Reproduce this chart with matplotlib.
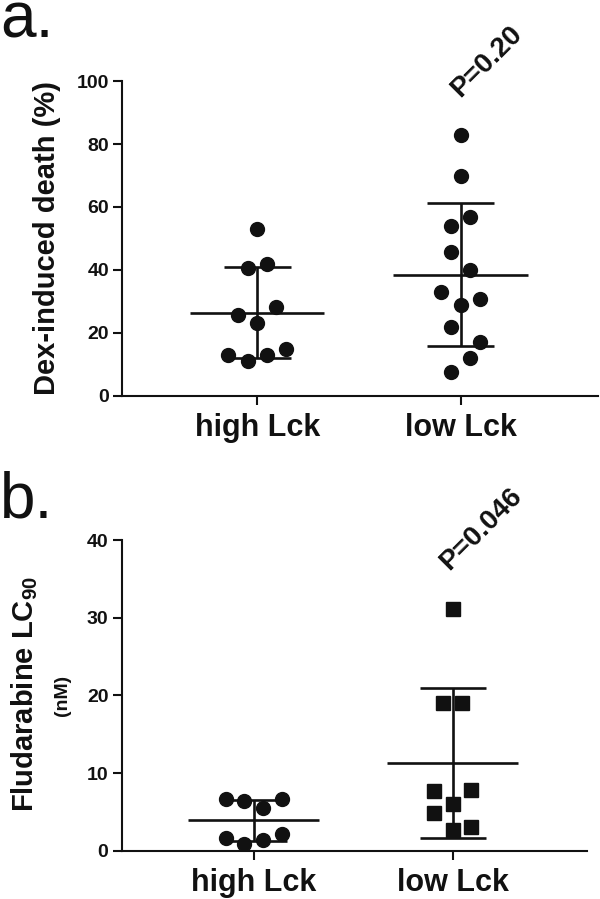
import numpy as np
import matplotlib
matplotlib.use("Agg")
import matplotlib.pyplot as plt

plt.rcParams['font.family'] = ['Liberation Sans', 'DejaVu Sans']
plt.rcParams['mathtext.fontset'] = 'custom'
plt.rcParams['mathtext.rm'] = 'Liberation Sans'
plt.rcParams['mathtext.bf'] = 'Liberation Sans:bold'

groups = ['high Lck', 'low Lck']

# panel a: Dex-induced death (%)
dex_high = [53, 40.5, 42, 25.6, 28.1, 23, 13, 10.9, 13, 14.8]
dex_low = [82.9, 69.7, 56.8, 53.9, 45.7, 40.1, 33, 30.9, 28.8, 21.9, 17, 11.9, 7.7]
# horizontal scatter slot of each point (as in the original dot plot)
dex_high_slot = [0, -1, 1, -2, 2, 0, -3, -1, 1, 3]
dex_low_slot = [0, 0, 1, -1, -1, 1, -2, 2, 0, -1, 2, 1, -1]

# panel b: Fludarabine LC90 (nM)
flu_high = [6.6, 6.4, 5.5, 6.6, 1.6, 0.9, 1.4, 2.2]
flu_low = [31.1, 19.0, 19.0, 7.7, 7.8, 6.0, 4.9, 2.7, 3.1]
flu_high_slot = [-3, -1, 1, 3, -3, -1, 1, 3]
flu_low_slot = [0, -1, 1, -2, 2, 0, -2, 0, 2]

STEP = 0.047
INK = '#111111'

fig = plt.figure(figsize=(6.0, 8.99), dpi=100)
ax_a = fig.add_axes([0.2035, 0.5598, 0.793, 0.350])
ax_b = fig.add_axes([0.2028, 0.0537, 0.7755, 0.3456])


def dot_panel(ax, series, slots, markers, ylim, yticks):
    for i, (vals, sl, mk) in enumerate(zip(series, slots, markers)):
        vals = np.asarray(vals)
        xs = i + np.asarray(sl) * STEP
        ax.plot(xs, vals, linestyle='none', marker=mk, color=INK,
                markersize=10 if mk == 'o' else 9.5, zorder=3)
        m = vals.mean()
        sd = vals.std(ddof=1)
        ax.hlines(m, i - 0.33, i + 0.33, color=INK, lw=1.9, zorder=4)
        ax.hlines([m - sd, m + sd], i - 0.165, i + 0.165, color=INK, lw=1.9, zorder=4)
        ax.vlines(i, m - sd, m + sd, color=INK, lw=1.9, zorder=4)
    ax.set_xlim(-0.664, 1.675)
    ax.set_ylim(*ylim)
    ax.set_yticks(yticks)
    ax.set_xticks(range(len(groups)))
    ax.set_xticklabels(groups, fontsize=22, fontweight='bold')
    for lab in ax.get_yticklabels():
        lab.set_fontweight('bold')
        lab.set_fontsize(14)
    for s in ['top', 'right']:
        ax.spines[s].set_visible(False)
    for s in ['left', 'bottom']:
        ax.spines[s].set_linewidth(1.5)
        ax.spines[s].set_color(INK)
    ax.tick_params(axis='both', length=6.5, width=1.5, color=INK, labelcolor=INK)
    ax.tick_params(axis='y', pad=3)
    ax.tick_params(axis='x', pad=6)


dot_panel(ax_a, [dex_high, dex_low], [dex_high_slot, dex_low_slot], ['o', 'o'],
          (0, 100), [0, 20, 40, 60, 80, 100])
dot_panel(ax_b, [flu_high, flu_low], [flu_high_slot, flu_low_slot], ['o', 's'],
          (0, 40), [0, 10, 20, 30, 40])

# y labels
fig.text(47 / 600, 1 - 238 / 899, 'Dex-induced death (%)', rotation=90,
         ha='center', va='center', fontsize=21, fontweight='bold', color=INK)
fig.text(25 / 600, 1 - 694 / 899, r'Fludarabine LC$_{\mathbf{90}}$', rotation=90,
         ha='center', va='center', fontsize=21, fontweight='bold', color=INK)
fig.text(62 / 600, 1 - 695 / 899, '(nM)', rotation=90,
         ha='center', va='center', fontsize=14, fontweight='bold', color=INK)

# p-values
fig.text(460 / 600, 1 - 98 / 899, 'P=0.20', rotation=45, rotation_mode='anchor',
         ha='left', va='baseline', fontsize=20, fontweight='bold', color=INK)
fig.text(449 / 600, 1 - 571 / 899, 'P=0.046', rotation=45, rotation_mode='anchor',
         ha='left', va='baseline', fontsize=20, fontweight='bold', color=INK)

# panel letters
fig.text(0.0, 1 - 38 / 899, 'a.', ha='left', va='baseline', fontsize=46, color=INK)
fig.text(0.0, 1 - 517 / 899, 'b.', ha='left', va='baseline', fontsize=46, color=INK)

fig.savefig('out.png', dpi=100)
